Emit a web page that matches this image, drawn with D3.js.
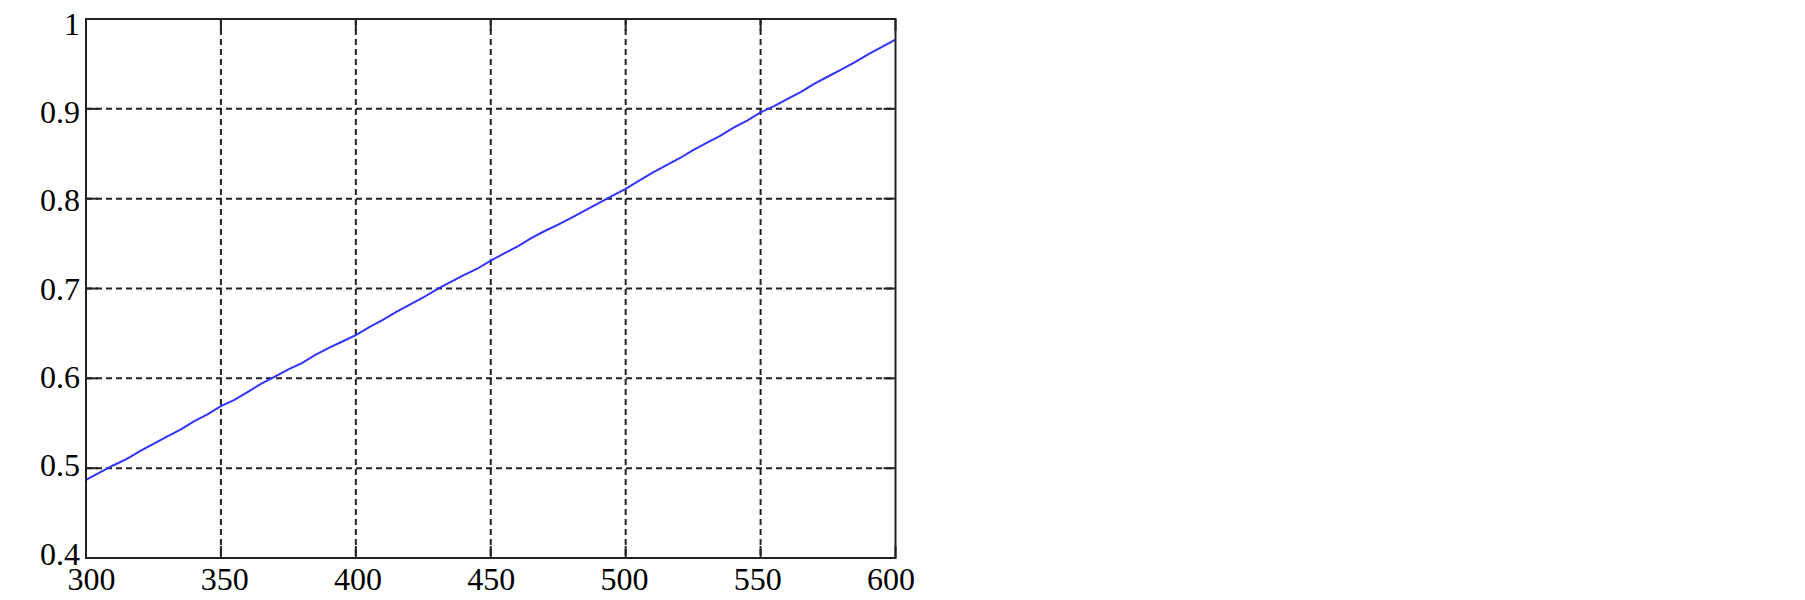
<!DOCTYPE html>
<html lang="en">
<head>
  <meta charset="UTF-8">
  <title>Line chart</title>
  <style>
    body { margin: 0; background: #fff; }
    .lbl text { font-family: "Liberation Serif", "Times New Roman", serif; font-size: 32px; fill: #000; }
    .lbl .domain { display: none; }
  </style>
</head>
<body>
  <div class="chart"></div>
  <script src="https://d3js.org/d3.v7.min.js"></script>
  <script>
    // data
    var xs = [300, 305, 310, 315, 320, 325, 330, 335, 340, 345,
              350, 355, 360, 365, 370, 375, 380, 385, 390, 395,
              400, 405, 410, 415, 420, 425, 430, 435, 440, 445,
              450, 455, 460, 465, 470, 475, 480, 485, 490, 495,
              500, 505, 510, 515, 520, 525, 530, 535, 540, 545,
              550, 555, 560, 565, 570, 575, 580, 585, 590, 595, 600]
    var ys = [0.487, 0.495, 0.503, 0.510, 0.519, 0.527, 0.535, 0.543, 0.552, 0.560,
              0.569, 0.576, 0.585, 0.594, 0.602, 0.610, 0.617, 0.626, 0.634, 0.641,
              0.648, 0.657, 0.665, 0.674, 0.682, 0.690, 0.699, 0.707, 0.715, 0.722,
              0.731, 0.739, 0.747, 0.756, 0.764, 0.771, 0.779, 0.787, 0.795, 0.803,
              0.811, 0.820, 0.829, 0.837, 0.845, 0.854, 0.862, 0.870, 0.879, 0.887,
              0.896, 0.903, 0.911, 0.919, 0.928, 0.936, 0.944, 0.952, 0.961, 0.969, 0.977]
    var xTicks = [300, 350, 400, 450, 500, 550, 600]
    var yTicks = [0.4, 0.5, 0.6, 0.7, 0.8, 0.9, 1]

    var width = 1805, height = 600
    // plot box (window.top is read-only, so no "top" here)
    var pL = 86, pR = 895.5, pT = 19, pB = 558

    var x = d3.scaleLinear().domain([300, 600]).range([pL, pR])
    var y = d3.scaleLinear().domain([0.4, 1]).range([pB, pT])
    // tick labels sit slightly pulled in from the frame ends
    var xLab = d3.scaleLinear().domain([300, 600]).range([pL + 5, pR - 5])
    var yLab = d3.scaleLinear().domain([0.4, 1]).range([pB - 4, pT + 5])

    var svg = d3.select('.chart').append('svg')
      .attr('width', width)
      .attr('height', height)
      .style('display', 'block')
    svg.append('rect').attr('width', width).attr('height', height).attr('fill', '#fff')

    // grid
    var grid = svg.append('g').attr('stroke', '#222').attr('stroke-width', 2)
      .attr('stroke-dasharray', '6,4')
    grid.selectAll('line.gx')
      .data(xTicks.slice(1, -1))
      .enter().append('line')
      .attr('class', 'gx')
      .attr('x1', function (d) { return x(d) }).attr('x2', function (d) { return x(d) })
      .attr('y1', pT).attr('y2', pB)
    grid.selectAll('line.gy')
      .data(yTicks.slice(1, -1))
      .enter().append('line')
      .attr('class', 'gy')
      .attr('y1', function (d) { return y(d) }).attr('y2', function (d) { return y(d) })
      .attr('x1', pL).attr('x2', pR)

    // inward ticks on all four sides
    var tl = 12
    var ticks = svg.append('g').attr('stroke', '#222').attr('stroke-width', 2)
    xTicks.forEach(function (d) {
      ticks.append('line').attr('x1', x(d)).attr('x2', x(d)).attr('y1', pB).attr('y2', pB - tl)
      ticks.append('line').attr('x1', x(d)).attr('x2', x(d)).attr('y1', pT).attr('y2', pT + tl)
    })
    yTicks.forEach(function (d) {
      ticks.append('line').attr('y1', y(d)).attr('y2', y(d)).attr('x1', pL).attr('x2', pL + tl)
      ticks.append('line').attr('y1', y(d)).attr('y2', y(d)).attr('x1', pR).attr('x2', pR - tl)
    })

    // data line
    var line = d3.line()
      .x(function (d, i) { return x(xs[i]) })
      .y(function (d) { return y(d) })
    svg.append('path')
      .datum(ys)
      .attr('d', line)
      .attr('fill', 'none')
      .attr('stroke', '#3333ff')
      .attr('stroke-width', 2)

    // frame
    svg.append('rect')
      .attr('x', pL).attr('y', pT)
      .attr('width', pR - pL).attr('height', pB - pT)
      .attr('fill', 'none').attr('stroke', '#222').attr('stroke-width', 2)

    // tick labels
    svg.append('g')
      .attr('class', 'lbl')
      .attr('transform', 'translate(0,' + (pB + 3) + ')')
      .call(d3.axisBottom(xLab).tickValues(xTicks).tickSize(0).tickPadding(0).tickFormat(d3.format('d')))
      .selectAll('text').attr('dy', '0.9em')
    svg.append('g')
      .attr('class', 'lbl')
      .attr('transform', 'translate(' + (pL - 6) + ',0)')
      .call(d3.axisLeft(yLab).tickValues(yTicks).tickSize(0).tickPadding(0).tickFormat(d3.format('')))
  </script>
</body>
</html>
